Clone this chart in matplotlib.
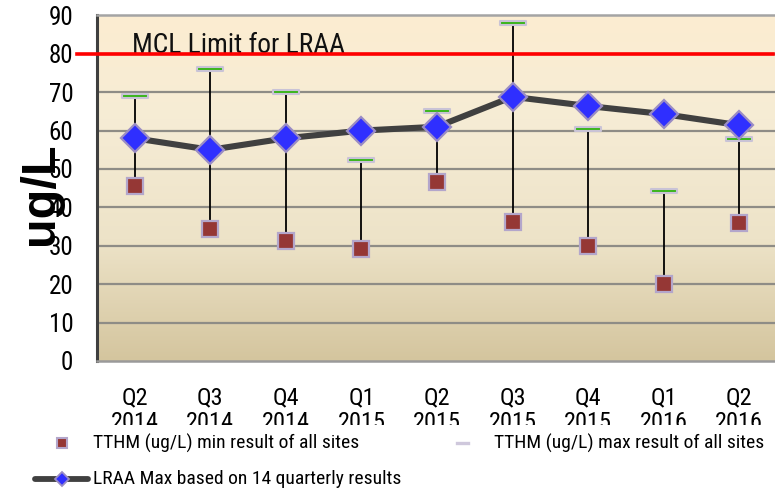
import numpy as np
import matplotlib
matplotlib.use("Agg")
import matplotlib.pyplot as plt
from matplotlib.colors import LinearSegmentedColormap
from matplotlib.lines import Line2D
from matplotlib.patches import Rectangle
from matplotlib.path import Path
import matplotlib.transforms as mtransforms

plt.rcParams['font.family'] = ['Roboto Condensed', 'Liberation Sans', 'DejaVu Sans']

quarters = ["Q2\n2014", "Q3\n2014", "Q4\n2014", "Q1\n2015", "Q2\n2015",
            "Q3\n2015", "Q4\n2015", "Q1\n2016", "Q2\n2016"]
tthm_min = [45.7, 34.4, 31.3, 29.1, 46.7, 36.3, 30.0, 20.1, 36.0]
tthm_max = [69.1, 76.0, 70.0, 52.3, 65.0, 88.0, 60.4, 44.3, 57.7]
lraa_max = [58.0, 55.0, 58.0, 60.0, 61.0, 68.8, 66.4, 64.3, 61.4]
mcl_limit = 80
y_ticks = list(range(0, 100, 10))

W, H = 775, 491
fig = plt.figure(figsize=(W / 100, H / 100), dpi=100)
ax = fig.add_axes([97 / W, 1 - 361 / H, 680 / W, (361 - 15.4) / H])

x = np.arange(len(quarters))
ax.set_xlim(-0.5, len(quarters) - 0.5)
ax.set_ylim(0, 90)

# gradient plot-area fill
grad = LinearSegmentedColormap.from_list(
    "bg", [(0.0, "#D4C59E"), (0.35, "#EDE3C8"), (0.7, "#F6ECD5"), (1.0, "#FCEDD1")])
ax.imshow(np.linspace(0, 1, 256).reshape(-1, 1), cmap=grad, aspect="auto",
          extent=[0, 1, 0, 1], transform=ax.transAxes, origin="lower", zorder=0)

# horizontal gridlines
for yv in y_ticks[1:-1]:
    ax.axhline(yv, color="#8E8C86", lw=1.6, zorder=1)

ax.spines["right"].set_visible(False)
ax.spines["left"].set_color("#3F3F3F")
ax.spines["left"].set_linewidth(2.2)
ax.spines["top"].set_color("#A4A4A4")
ax.spines["top"].set_linewidth(1.8)
ax.spines["bottom"].set_color("#9A9A9A")
ax.spines["bottom"].set_linewidth(1.8)

# high-low lines between the min and max site results
ax.vlines(x, tthm_min, tthm_max, color="black", lw=1.3, zorder=2)

# LRAA line with diamonds
ax.plot(x, lraa_max, color="#404040", lw=4.4, zorder=3, solid_capstyle="butt")
ax.plot(x, lraa_max, linestyle="none", marker="D", markersize=14,
        markerfacecolor="#2F2FFF", markeredgecolor="#9A8CC4", markeredgewidth=1.6, zorder=5)

# min results (squares)
ax.plot(x, tthm_min, linestyle="none", marker="s", markersize=11.5,
        markerfacecolor="#953735", markeredgecolor="#B3A6CB", markeredgewidth=1.6, zorder=4)

# max results (green dashes with a pale border)
bar = Path([(-1, -0.18), (1, -0.18), (1, 0.18), (-1, 0.18), (-1, -0.18)],
           [Path.MOVETO, Path.LINETO, Path.LINETO, Path.LINETO, Path.CLOSEPOLY])
ax.plot(x, tthm_max, linestyle="none", marker=bar, markersize=18.5,
        markerfacecolor="#39B51A", markeredgecolor="#C9C3D6", markeredgewidth=1.5, zorder=4)

# MCL line
trans = mtransforms.blended_transform_factory(ax.transAxes, ax.transData)
ax.plot([-20 / 680, 676 / 680], [mcl_limit, mcl_limit], color="#FF0000", lw=2.6,
        transform=trans, clip_on=False, zorder=6)
ax.text(0.051, 80.2, "MCL Limit for LRAA", transform=trans, fontsize=19.8,
        ha="left", va="baseline", color="#111111", zorder=2)

ax.set_yticks(y_ticks)
ax.set_yticklabels([str(v) for v in y_ticks], fontsize=18)
ax.set_xticks(x)
ax.set_xticklabels(quarters, fontsize=17.5, linespacing=1.12)
ax.tick_params(axis="both", length=0)
ax.tick_params(axis="y", pad=17)
ax.tick_params(axis="x", pad=18)

fig.text(53 / W, 1 - 194 / H, "ug/L", rotation=90, rotation_mode="anchor",
         ha="center", va="baseline", fontsize=35, fontweight="bold",
         family=["Liberation Sans", "DejaVu Sans"], zorder=3)

# legend panel
fig.add_artist(Rectangle((0, 0), 1, 1 - 425 / H, transform=fig.transFigure,
                         facecolor="white", edgecolor="none", zorder=10))

def fx(px):
    return px / W

def fy(py):
    return 1 - py / H

fig.add_artist(Line2D([fx(62)], [fy(443)], transform=fig.transFigure, linestyle="none",
                      marker="s", markersize=7, markerfacecolor="#953735",
                      markeredgecolor="#B3A6CB", markeredgewidth=1.5, zorder=11))
fig.text(fx(93), fy(443), "TTHM (ug/L) min result of all sites", fontsize=14,
         ha="left", va="center", zorder=11)

fig.add_artist(Line2D([fx(457), fx(468)], [fy(443), fy(443)], transform=fig.transFigure,
                      color="#CFC8DC", lw=2.4, zorder=11))
fig.text(fx(494), fy(443), "TTHM (ug/L) max result of all sites", fontsize=14,
         ha="left", va="center", zorder=11)

fig.add_artist(Line2D([fx(35), fx(88)], [fy(479), fy(479)], transform=fig.transFigure,
                      color="#404040", lw=4.2, solid_capstyle="round", zorder=11))
fig.add_artist(Line2D([fx(62)], [fy(479)], transform=fig.transFigure, linestyle="none",
                      marker="D", markersize=7, markerfacecolor="#2F2FFF",
                      markeredgecolor="#9A8CC4", markeredgewidth=1.3, zorder=12))
fig.text(fx(93), fy(479), "LRAA Max based on 14 quarterly results", fontsize=14,
         ha="left", va="center", zorder=11)

fig.savefig("out.png", dpi=100)
